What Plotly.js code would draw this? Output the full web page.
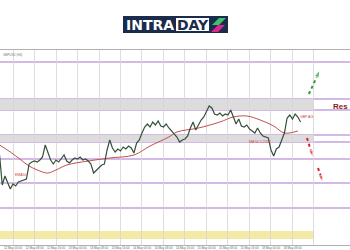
<!DOCTYPE html>
<html>
<head>
<meta charset="utf-8">
<script src="https://cdn.plot.ly/plotly-3.0.1.min.js"></script>
<style>html,body{margin:0;padding:0;background:#fff;}#chart{width:350px;height:250px;}</style>
</head>
<body>
<div id="chart"></div>
<script>
// ---- data (hourly bars, index) ----
const barIndex = [-5,-4,-3,-2,-1,0,1,2,3,4,5,6,7,8,9,10,11,12,13,14,15,16,17,18,19,20,21,22,23,24,25,26,27,28,29,30,31,32,33,34,35,36,37,38,39,40,41,42,43,44,45,46,47,48,49,50,51,52,53,54,55,56,57,58,59,60,61,62,63,64,65,66,67,68,69,70,71,72,73,74,75,76,77,78,79,80,81,82,83,84,85,86,87,88,89,90,91,92,93,94,95,96,97,98,99,100,101,102,103,104,105,106,107];
const closes = [1.2180,1.2120,1.2138,1.2124,1.2112,1.2122,1.2118,1.2126,1.2128,1.2130,1.2132,1.2162,1.2166,1.2168,1.2166,1.2170,1.2176,1.2200,1.2186,1.2170,1.2162,1.2170,1.2166,1.2172,1.2180,1.2168,1.2164,1.2170,1.2174,1.2172,1.2176,1.2170,1.2172,1.2168,1.2162,1.2144,1.2150,1.2156,1.2160,1.2162,1.2190,1.2210,1.2194,1.2186,1.2192,1.2188,1.2196,1.2192,1.2198,1.2194,1.2184,1.2204,1.2210,1.2224,1.2236,1.2242,1.2236,1.2246,1.2240,1.2248,1.2238,1.2236,1.2242,1.2234,1.2228,1.2222,1.2216,1.2206,1.2210,1.2212,1.2218,1.2234,1.2246,1.2230,1.2240,1.2250,1.2256,1.2266,1.2278,1.2274,1.2262,1.2260,1.2264,1.2258,1.2262,1.2260,1.2270,1.2256,1.2242,1.2252,1.2238,1.2236,1.2240,1.2232,1.2228,1.2224,1.2234,1.2224,1.2218,1.2216,1.2214,1.2190,1.2178,1.2192,1.2196,1.2210,1.2224,1.2254,1.2260,1.2252,1.2262,1.2256,1.2246];
const maIndex = [-5,-1,3,6,11,13,16,20,28,36,45,51,58,61,69,77,82,87,92,97,101,106];
const maValues = [1.2200,1.2186,1.2170,1.2158,1.2146,1.2144,1.2150,1.2160,1.2168,1.2174,1.2180,1.2198,1.2216,1.2226,1.2234,1.2246,1.2256,1.2258,1.2250,1.2238,1.2224,1.2228];
const levels = [1.2366,1.2292,1.2270,1.2220,1.2206,1.2172,1.2124,1.2074];
const zoneLow = [1.2270,1.2206];
const zoneHigh = [1.2292,1.2220];
const supportZoneLow = [1.2012];
const supportZoneHigh = [1.2028];
const gridVals = [0,8,16,24,32,40,48,56,64,72,80,88,96,104,112];
const labelVals = [0,8,16,24,32,40,48,56,64,72,80,88,96,104];
const labelText = ["12 May 00:00","12 May 08:00","12 May 16:00","13 May 00:00","13 May 08:00","13 May 16:00","14 May 00:00","14 May 08:00","14 May 16:00","15 May 00:00","15 May 08:00","15 May 16:00","18 May 00:00","18 May 08:00"];
const upArrowX = [110.1,114.2];
const upArrowY = [1.2302,1.2350];
const downArrow1X = [109.4,111.6];
const downArrow1Y = [1.2214,1.2176];
const downArrow2X = [113.5,115.3];
const downArrow2Y = [1.2154,1.2126];

// ---- helpers for decoration in pixel terms ----
const W = 350, PT = 50, PH = 195;
const P = px => px / W;
const Q = py => (PT + PH - py) / PH;
const xRange = [-4.837, 125.4];
const zoneEnd = 112;

const traces = [
  {x: maIndex, y: maValues, type: 'scatter', mode: 'lines', line: {color: '#c0504d', width: 1, shape: 'spline'}, hoverinfo: 'skip'},
  {x: barIndex, y: closes, type: 'scatter', mode: 'lines', line: {color: '#34503a', width: 1.2}, hoverinfo: 'skip'},
  {x: upArrowX, y: upArrowY, xaxis: 'x2', type: 'scatter', mode: 'lines+markers', line: {color: '#2e9e3e', width: 2, dash: 'dot'},
   marker: {symbol: ['circle', 'arrow'], size: [0, 8], angleref: 'previous', color: '#2e9e3e'}},
  {x: downArrow1X, y: downArrow1Y, xaxis: 'x2', type: 'scatter', mode: 'lines+markers', line: {color: '#e02020', width: 2, dash: 'dot'},
   marker: {symbol: ['circle', 'arrow'], size: [0, 7], angleref: 'previous', color: '#e02020'}},
  {x: downArrow2X, y: downArrow2Y, xaxis: 'x2', type: 'scatter', mode: 'lines+markers', line: {color: '#e02020', width: 2, dash: 'dot'},
   marker: {symbol: ['circle', 'arrow'], size: [0, 7], angleref: 'previous', color: '#e02020'}}
];

const shapes = [];
zoneLow.forEach((lo, i) => shapes.push({type: 'rect', layer: 'below', xref: 'x', yref: 'y', x0: xRange[0], x1: zoneEnd, y0: lo, y1: zoneHigh[i], fillcolor: '#dcdcdc', line: {width: 0}}));
supportZoneLow.forEach((lo, i) => shapes.push({type: 'rect', layer: 'below', xref: 'x', yref: 'y', x0: xRange[0], x1: zoneEnd, y0: lo, y1: supportZoneHigh[i], fillcolor: '#f2eaa6', line: {width: 0}}));
levels.forEach(v => shapes.push({type: 'line', layer: 'below', xref: 'paper', yref: 'y', x0: 0, x1: 1, y0: v, y1: v, line: {color: '#a874cc', width: 1.2}}));
// logo
shapes.push({type: 'rect', xref: 'paper', yref: 'paper', x0: P(123), x1: P(228), y0: Q(33), y1: Q(16), fillcolor: '#1b2b4b', line: {width: 0}});
shapes.push({type: 'rect', xref: 'paper', yref: 'paper', x0: P(176), x1: P(209), y0: Q(31), y1: Q(18), fillcolor: '#ffffff', line: {width: 0}});
shapes.push({type: 'path', xref: 'paper', yref: 'paper', path: `M ${P(212)},${Q(25)} L ${P(219)},${Q(18)} L ${P(226)},${Q(18)} L ${P(219)},${Q(25)} Z`, fillcolor: '#3cc46a', line: {width: 0}});
shapes.push({type: 'path', xref: 'paper', yref: 'paper', path: `M ${P(211)},${Q(32)} L ${P(218)},${Q(25)} L ${P(225)},${Q(25)} L ${P(218)},${Q(32)} Z`, fillcolor: '#e0258f', line: {width: 0}});

const annotations = [
  {xref: 'paper', yref: 'paper', x: P(150), y: Q(24.5), text: '<b>INTRA</b>', showarrow: false, font: {family: 'DejaVu Sans', size: 14, color: '#ffffff'}, xanchor: 'center', yanchor: 'middle'},
  {xref: 'paper', yref: 'paper', x: P(192.5), y: Q(24.5), text: '<b>DAY</b>', showarrow: false, font: {family: 'DejaVu Sans', size: 14, color: '#1b2b4b'}, xanchor: 'center', yanchor: 'middle'},
  {xref: 'paper', yref: 'paper', x: 1, y: Q(106), text: '<b>Res</b>', showarrow: false, font: {family: 'Liberation Sans', size: 8, color: '#8b1a1a'}, xanchor: 'right', yanchor: 'middle'},
  {xref: 'paper', yref: 'paper', x: P(1), y: Q(51), text: 'GBPUSD (H4)', showarrow: false, font: {family: 'Liberation Sans', size: 3, color: '#777'}, xanchor: 'left', yanchor: 'top'},
  {xref: 'x', yref: 'y', x: 106, y: 1.2256, text: 'GBP AG', showarrow: false, font: {family: 'Liberation Sans', size: 3.5, color: '#d04040'}, xanchor: 'left', yanchor: 'middle'},
  {xref: 'x', yref: 'y', x: 92, y: 1.2206, text: 'MA 50 1.2206', showarrow: false, font: {family: 'Liberation Sans', size: 3.5, color: '#d04040'}, xanchor: 'center', yanchor: 'middle'},
  {xref: 'x', yref: 'y', x: 2.8, y: 1.2140, text: 'EMA50', showarrow: false, font: {family: 'Liberation Sans', size: 3.5, color: '#d04040'}, xanchor: 'center', yanchor: 'middle'}
];

const layout = {
  width: 350, height: 250,
  margin: {l: 0, r: 0, t: 50, b: 5},
  paper_bgcolor: '#ffffff', plot_bgcolor: '#ffffff',
  showlegend: false,
  xaxis: {range: xRange, tickmode: 'array', tickvals: gridVals, showticklabels: false, ticks: '',
          showgrid: true, gridcolor: '#d6d6d6', gridwidth: 0.8, zeroline: false,
          showline: true, mirror: true, linecolor: '#b0b0b0', linewidth: 1, fixedrange: true},
  xaxis2: {range: xRange, overlaying: 'x', anchor: 'y', side: 'bottom', tickmode: 'array', tickvals: labelVals, ticktext: labelText,
           tickangle: 0, tickfont: {family: 'Liberation Sans', size: 3, color: '#666'}, ticks: '', showgrid: false,
           zeroline: false, showline: false, fixedrange: true},
  yaxis: {range: [1.2000, 1.2390], showgrid: false, showticklabels: false, zeroline: false, ticks: '', fixedrange: true},
  shapes: shapes,
  annotations: annotations
};

Plotly.newPlot('chart', traces, layout, {staticPlot: true, displayModeBar: false});
</script>
</body>
</html>
